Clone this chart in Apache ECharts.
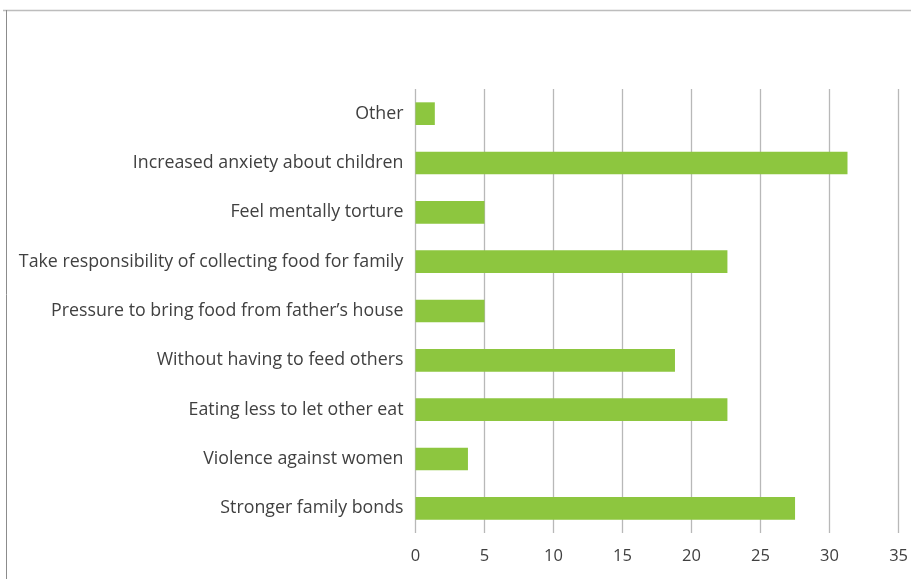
<!DOCTYPE html>
<html>
<head>
<meta charset="utf-8">
<script src="https://cdn.jsdelivr.net/npm/echarts@6/dist/echarts.min.js"></script>
<style>
html,body{margin:0;padding:0;background:#fff;}
#c{width:911px;height:579px;}
</style>
</head>
<body>
<div id="c"></div>
<script>
var categories = [
  "Stronger family bonds",
  "Violence against women",
  "Eating less to let other eat",
  "Without having to feed others",
  "Pressure to bring food from father\u2019s house",
  "Take responsibility of collecting food for family",
  "Feel mentally torture",
  "Increased anxiety about children",
  "Other"
];
var values = [27.5, 3.8, 22.6, 18.8, 5.0, 22.6, 5.0, 31.3, 1.4];
var xTicks = [0, 5, 10, 15, 20, 25, 30, 35];

var chart = echarts.init(document.getElementById('c'), null, {renderer: 'canvas'});
var font = '"Open Sans", "Noto Sans", sans-serif';
chart.setOption({
  animation: false,
  backgroundColor: '#ffffff',
  graphic: [
    {type: 'line', shape: {x1: 3, y1: 10.5, x2: 911, y2: 10.5}, style: {stroke: '#bdbdbd', lineWidth: 1.5}},
    {type: 'line', shape: {x1: 6.5, y1: 10, x2: 6.5, y2: 579}, style: {stroke: '#8c8c8c', lineWidth: 1}}
  ],
  grid: {left: 415.5, right: 11, top: 89, bottom: 46, containLabel: false},
  xAxis: {
    type: 'value',
    min: xTicks[0],
    max: xTicks[xTicks.length - 1],
    interval: 5,
    axisLine: {show: false},
    axisTick: {show: false},
    axisLabel: {color: '#404040', fontSize: 16.5, fontFamily: font, margin: 15},
    splitLine: {show: true, lineStyle: {color: '#b8b8b8', width: 1.3}}
  },
  yAxis: {
    type: 'category',
    data: categories,
    axisLine: {show: false},
    axisTick: {show: false},
    axisLabel: {color: '#404040', fontSize: 17.8, fontFamily: font, margin: 12}
  },
  series: [{
    type: 'bar',
    data: values,
    barCategoryGap: '54%',
    itemStyle: {color: '#8dc63f'}
  }]
});
</script>
</body>
</html>
